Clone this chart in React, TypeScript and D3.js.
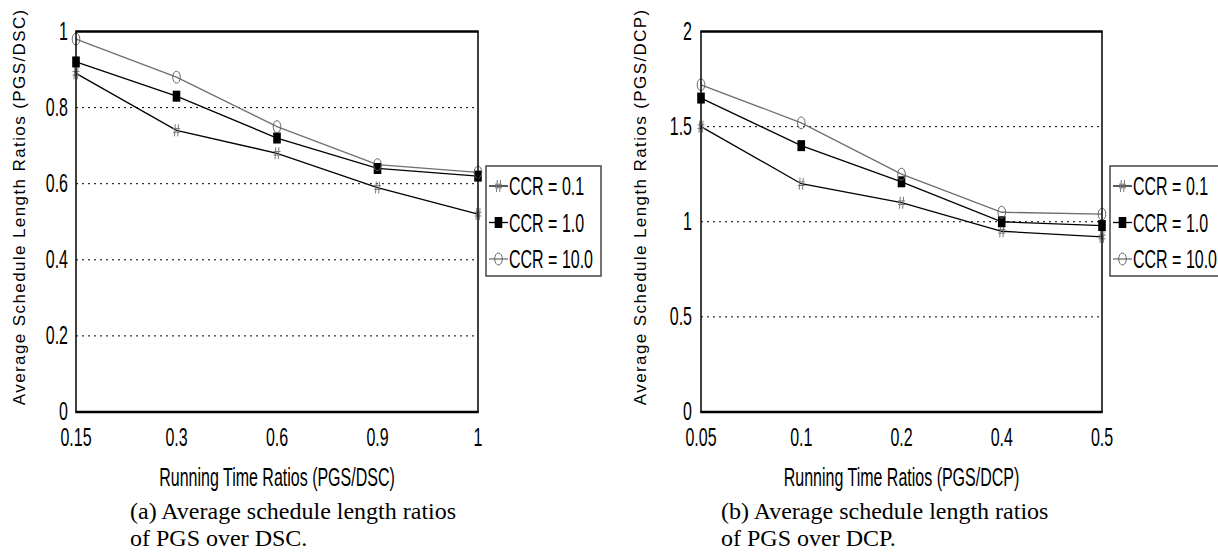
import React from "react";
import * as d3 from "d3";

const categoriesA = ["0.15", "0.3", "0.6", "0.9", "1"];
const categoriesB = ["0.05", "0.1", "0.2", "0.4", "0.5"];
const seriesNames = ["CCR = 0.1", "CCR = 1.0", "CCR = 10.0"];
const dscCcr01 = [0.89, 0.74, 0.68, 0.59, 0.52];
const dscCcr1 = [0.92, 0.83, 0.72, 0.64, 0.62];
const dscCcr10 = [0.98, 0.88, 0.75, 0.65, 0.63];
const dcpCcr01 = [1.5, 1.2, 1.1, 0.95, 0.92];
const dcpCcr1 = [1.65, 1.4, 1.21, 1.0, 0.98];
const dcpCcr10 = [1.72, 1.52, 1.25, 1.05, 1.04];
const yTicksA = [0, 0.2, 0.4, 0.6, 0.8, 1];
const yTicksB = [0, 0.5, 1, 1.5, 2];

const SANS = "'Liberation Sans', Arial, sans-serif";
const SERIF = "'Liberation Serif', 'Times New Roman', serif";
const SX = 0.8;
const SY = 1.3;

function NText({ x, y, anchor = "start", size = 20, children }: any) {
  return (
    <text
      transform={`translate(${x},${y}) scale(${SX},${SY})`}
      textAnchor={anchor}
      fontFamily={SANS}
      fontSize={size}
      fill="#000"
    >
      {children}
    </text>
  );
}

function Marker({ kind, x, y }: { kind: number; x: number; y: number }) {
  if (kind === 0) {
    const p = `M${x - 1.2},${y - 6}L${x - 2},${y + 6}M${x + 2},${y - 6}L${x + 1.2},${y + 6}M${x - 3.5},${y - 1.8}L${x + 3.5},${y - 1.8}M${x - 3.5},${y + 1.8}L${x + 3.5},${y + 1.8}`;
    return <path d={p} stroke="#777" strokeWidth={1} fill="none" />;
  }
  if (kind === 1) {
    return <rect x={x - 3.8} y={y - 5.5} width={7.6} height={11} fill="#000" />;
  }
  return <ellipse cx={x} cy={y} rx={3.8} ry={6} fill="none" stroke="#666" strokeWidth={1} />;
}

const lineColors = ["#000", "#000", "#6e6e6e"];

function Panel({ cats, series, yTicks, yMax, x0, x1, tickGap, yTitle, xTitle, yTitleX, cap1, cap2, capX, legendX }: any) {
  const top = 31.5;
  const bottom = 412;
  const x = d3.scalePoint<string>().domain(cats).range([x0, x1]).padding(0);
  const y = d3.scaleLinear().domain([0, yMax]).range([bottom, top]);
  const line = d3
    .line<number>()
    .x((_, i) => x(cats[i]) as number)
    .y((d) => y(d));
  const midY = (top + bottom) / 2;
  return (
    <g>
      {yTicks
        .filter((t: number) => t > 0 && t < yMax)
        .map((t: number) => (
          <line key={t} x1={x0} x2={x1} y1={y(t)} y2={y(t)} stroke="#000" strokeWidth={1} strokeDasharray="2,4" />
        ))}
      {series.map((s: number[], k: number) => (
        <path key={"l" + k} d={line(s) as string} fill="none" stroke={lineColors[k]} strokeWidth={1.3} />
      ))}
      {series.map((s: number[], k: number) =>
        s.map((v, i) => <Marker key={`m${k}-${i}`} kind={k} x={x(cats[i]) as number} y={y(v)} />)
      )}
      <line x1={x0} x2={x0} y1={top} y2={bottom} stroke="#000" strokeWidth={1.5} />
      <line x1={x1} x2={x1} y1={top} y2={bottom} stroke="#000" strokeWidth={1.5} />
      <line x1={x0 - 0.75} x2={x1 + 0.75} y1={top} y2={top} stroke="#000" strokeWidth={2.5} />
      <line x1={x0 - 0.75} x2={x1 + 0.75} y1={bottom} y2={bottom} stroke="#000" strokeWidth={2.5} />
      {yTicks.map((t: number) => (
        <NText key={"yt" + t} x={x0 - tickGap} y={y(t) + 8} anchor="end">
          {String(t)}
        </NText>
      ))}
      {cats.map((c: string) => (
        <NText key={"xt" + c} x={x(c) as number} y={446} anchor="middle">
          {c}
        </NText>
      ))}
      <NText x={(x0 + x1) / 2} y={486} anchor="middle">
        {xTitle}
      </NText>
      <text
        transform={`translate(${yTitleX},${midY - 15}) rotate(-90)`}
        textAnchor="middle"
        fontFamily={SANS}
        fontSize={17}
        letterSpacing={1.4}
        fill="#000"
      >
        {yTitle}
      </text>
      <text x={capX} y={519} fontFamily={SERIF} fontSize={24} fill="#000">
        {cap1}
      </text>
      <text x={capX} y={546} fontFamily={SERIF} fontSize={24} fill="#000">
        {cap2}
      </text>
      <g>
        <rect x={legendX} y={166} width={115} height={110} fill="#fff" stroke="#444" strokeWidth={1.5} />
        {seriesNames.map((n, k) => {
          const ly = 186 + k * 36.5;
          return (
            <g key={"lg" + k}>
              <line x1={legendX + 3} x2={legendX + 22} y1={ly} y2={ly} stroke={lineColors[k]} strokeWidth={1.3} />
              <Marker kind={k} x={legendX + 12.5} y={ly} />
              <NText x={legendX + 23} y={ly + 9}>
                {n}
              </NText>
            </g>
          );
        })}
      </g>
    </g>
  );
}

export default function App() {
  return (
    <svg width={1218} height={555} style={{ position: "absolute", left: 0, top: 0, background: "#fff" }}>
      <rect width={1218} height={555} fill="#fff" />
      <Panel
        cats={categoriesA}
        series={[dscCcr01, dscCcr1, dscCcr10]}
        yTicks={yTicksA}
        yMax={1}
        x0={76}
        x1={478}
        tickGap={8}
        yTitle="Average Schedule Length Ratios (PGS/DSC)"
        xTitle="Running Time Ratios (PGS/DSC)"
        yTitleX={25}
        cap1="(a) Average schedule length ratios"
        cap2="of PGS over DSC."
        capX={130}
        legendX={486}
      />
      <Panel
        cats={categoriesB}
        series={[dcpCcr01, dcpCcr1, dcpCcr10]}
        yTicks={yTicksB}
        yMax={2}
        x0={701}
        x1={1102}
        tickGap={9}
        yTitle="Average Schedule Length Ratios (PGS/DCP)"
        xTitle="Running Time Ratios (PGS/DCP)"
        yTitleX={646}
        cap1="(b) Average schedule length ratios"
        cap2="of PGS over DCP."
        capX={721}
        legendX={1110}
      />
    </svg>
  );
}
